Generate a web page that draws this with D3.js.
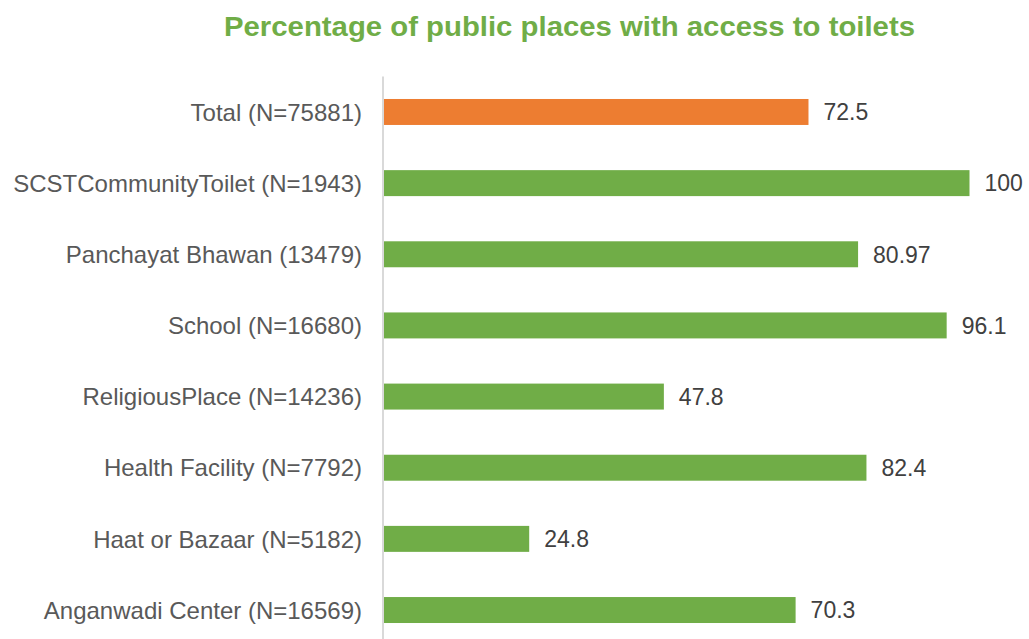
<!DOCTYPE html>
<html>
<head>
<meta charset="utf-8">
<script src="https://cdn.jsdelivr.net/npm/d3@7"></script>
<style>
  body { margin: 0; background: #fff; }
  svg { display: block; font-family: "Liberation Sans", Arial, sans-serif; }
</style>
</head>
<body>
<svg id="chart" width="1029" height="639"></svg>
<script>
const categories = [
  "Total (N=75881)",
  "SCSTCommunityToilet (N=1943)",
  "Panchayat Bhawan (13479)",
  "School (N=16680)",
  "ReligiousPlace (N=14236)",
  "Health Facility (N=7792)",
  "Haat or Bazaar (N=5182)",
  "Anganwadi Center (N=16569)"
]
const values = [72.5, 100, 80.97, 96.1, 47.8, 82.4, 24.8, 70.3]
const valueLabels = ["72.5", "100", "80.97", "96.1", "47.8", "82.4", "24.8", "70.3"]

const svg = d3.select('#chart')
const width = +svg.attr('width')
const height = +svg.attr('height')
const plotLeft = 384, plotRight = 969.5
const plotTop = 76.4, plotBottom = 645.6

const x = d3.scaleLinear().domain([0, 100]).range([plotLeft, plotRight])
const y = d3.scaleBand().domain(categories).range([plotTop, plotBottom]).paddingInner(0.635).paddingOuter(0.3175)

// title
svg.append("text")
  .attr("x", 569.5)
  .attr("y", 36)
  .attr("text-anchor", "middle")
  .attr("fill", "#70AD47")
  .style("font-weight", "bold")
  .style("font-size", "28px")
  .attr("textLength", 691)
  .attr("lengthAdjust", "spacingAndGlyphs")
  .text("Percentage of public places with access to toilets")

// bars
svg.selectAll("rect.bar")
  .data(categories)
  .join("rect")
  .attr("class", "bar")
  .attr("x", x(0))
  .attr("y", d => y(d))
  .attr("width", (d, i) => x(values[i]) - x(0))
  .attr("height", y.bandwidth())
  .attr("fill", (d, i) => i === 0 ? "#ED7D31" : "#70AD47")

// axis line
svg.append("line")
  .attr("x1", x(0) - 1).attr("x2", x(0) - 1)
  .attr("y1", plotTop).attr("y2", height)
  .attr("stroke", "#D9D9D9")
  .attr("stroke-width", 2)

// category labels
svg.selectAll("text.cat")
  .data(categories)
  .join("text")
  .attr("class", "cat")
  .attr("x", 362)
  .attr("y", d => y(d) + y.bandwidth() / 2)
  .attr("dy", "0.36em")
  .attr("text-anchor", "end")
  .attr("fill", "#595959")
  .style("font-size", "24px")
  .text(d => d)

// value labels
svg.selectAll("text.val")
  .data(categories)
  .join("text")
  .attr("class", "val")
  .attr("x", (d, i) => x(values[i]) + 15)
  .attr("y", d => y(d) + y.bandwidth() / 2)
  .attr("dy", "0.36em")
  .attr("fill", "#404040")
  .style("font-size", "23px")
  .text((d, i) => valueLabels[i])
</script>
</body>
</html>
